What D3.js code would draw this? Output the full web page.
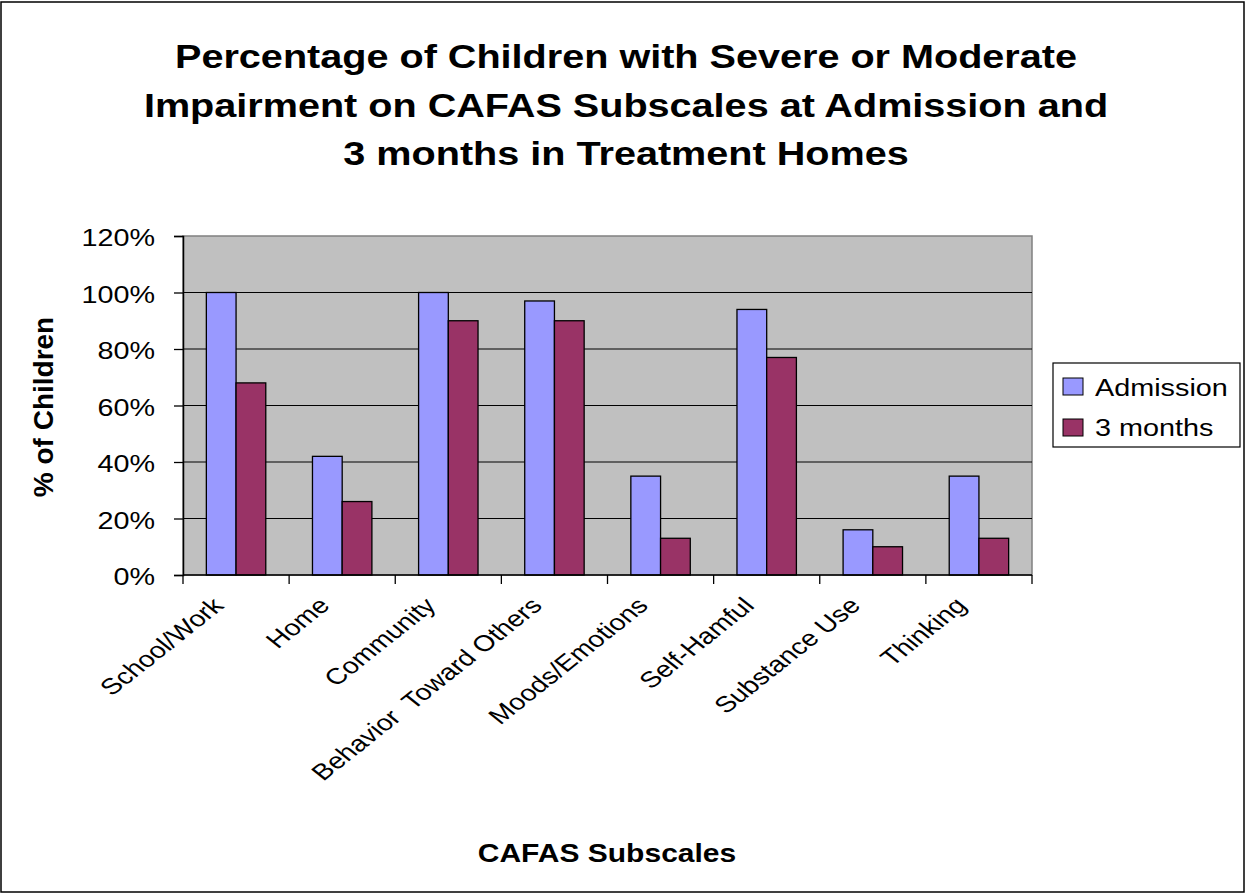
<!DOCTYPE html>
<html><head><meta charset="utf-8">
<script src="https://cdn.jsdelivr.net/npm/d3@7/dist/d3.min.js"></script>
<style>body{margin:0;background:#fff}svg{display:block}text{font-family:"Liberation Sans",Arial,sans-serif}</style>
</head><body>
<script>
const categories = ["School/Work","Home","Community","Behavior  Toward Others","Moods/Emotions","Self-Hamful","Substance Use","Thinking"];
const admission = [100,42,100,97,35,94,16,35];
const threeMonths = [68,26,90,90,13,77,10,13];
const seriesNames = ["Admission","3 months"];
const seriesColors = ["#9999FF","#993366"];
const yTicks = [0,20,40,60,80,100,120];
const titleLines = ["Percentage of Children with Severe or Moderate","Impairment on CAFAS Subscales at Admission and","3 months in Treatment Homes"];

const W=1247,H=894;
const svg=d3.select("body").append("svg").attr("width",W).attr("height",H);
svg.append("rect").attr("x",1).attr("y",2).attr("width",1243).attr("height",890).attr("fill","#fff").attr("stroke","#000").attr("stroke-width",1.5);

const L=183,R=1032,T=236,B=575;
const x=d3.scaleBand().domain(categories).range([L,R]).paddingInner(0).paddingOuter(0);
const y=d3.scaleLinear().domain([0,120]).range([B,T]);

svg.append("rect").attr("x",L).attr("y",T).attr("width",R-L).attr("height",B-T).attr("fill","#C0C0C0").attr("stroke","#808080").attr("stroke-width",1.5);

// gridlines
svg.append("g").selectAll("line").data(yTicks.filter(d=>d>0&&d<120)).join("line")
  .attr("x1",L).attr("x2",R).attr("y1",d=>y(d)).attr("y2",d=>y(d)).attr("stroke","#000").attr("stroke-width",1.2);

// bars
const data=[admission,threeMonths];
const barW = x.bandwidth()*0.28;
const g=svg.append("g");
categories.forEach((c,i)=>{
  data.forEach((s,j)=>{
    const x0 = x(c)+x.bandwidth()/2 - barW + j*barW;
    g.append("rect").attr("x",x0).attr("y",y(s[i])).attr("width",barW).attr("height",B-y(s[i]))
      .attr("fill",seriesColors[j]).attr("stroke","#000").attr("stroke-width",1.3);
  });
});

// y axis
const ya=svg.append("g").attr("transform",`translate(${L},0)`).call(d3.axisLeft(y).tickValues(yTicks).tickFormat("").tickSize(9));
ya.select(".domain").attr("stroke","#000").attr("stroke-width",1.5);
ya.selectAll(".tick line").attr("stroke","#000").attr("stroke-width",1.3);
svg.append("g").selectAll("text").data(yTicks).join("text")
  .attr("transform",d=>`translate(155,${y(d)}) scale(1.25,1)`)
  .attr("dy","0.44em").attr("text-anchor","end").attr("font-size",23).attr("fill","#000").text(d=>d+"%");

// x axis
const xa=svg.append("g").attr("transform",`translate(0,${B})`);
xa.append("line").attr("x1",L).attr("x2",R).attr("stroke","#000").attr("stroke-width",1.5);
const bounds=categories.map(c=>x(c)).concat([R]);
xa.selectAll(".tk").data(bounds).join("line").attr("x1",d=>d).attr("x2",d=>d).attr("y1",0).attr("y2",9).attr("stroke","#000").attr("stroke-width",1.3);
svg.append("g").selectAll("text").data(categories).join("text")
  .attr("transform",d=>`translate(${x(d)+x.bandwidth()/2-11},607) scale(1.26,1) rotate(-45)`)
  .attr("text-anchor","end").attr("font-size",22.5).attr("fill","#000")
  .style("white-space","pre").text(d=>d);

// title
svg.append("g").selectAll("text").data(titleLines).join("text")
  .attr("transform",(d,i)=>`translate(626,${68+i*48.5}) scale(1.2,1)`).attr("text-anchor","middle")
  .attr("font-size",33).attr("font-weight","bold").text(d=>d);

// axis titles
svg.append("text").attr("transform","translate(53,407) rotate(-90)").attr("text-anchor","middle")
  .attr("font-size",28).attr("font-weight","bold").text("% of Children");
svg.append("text").attr("transform","translate(607,862) scale(1.2,1)").attr("text-anchor","middle")
  .attr("font-size",25).attr("font-weight","bold").text("CAFAS Subscales");

// legend
const lg=svg.append("g");
lg.append("rect").attr("x",1053).attr("y",363).attr("width",187).attr("height",84).attr("fill","#fff").attr("stroke","#000").attr("stroke-width",1.2);
seriesNames.forEach((n,i)=>{
  lg.append("rect").attr("x",1063).attr("y",378+i*41).attr("width",20).attr("height",17).attr("fill",seriesColors[i]).attr("stroke","#000").attr("stroke-width",1);
  lg.append("text").attr("transform",`translate(1095,${396+i*40}) scale(1.2,1)`).attr("font-size",24).text(n);
});
</script>
</body></html>
